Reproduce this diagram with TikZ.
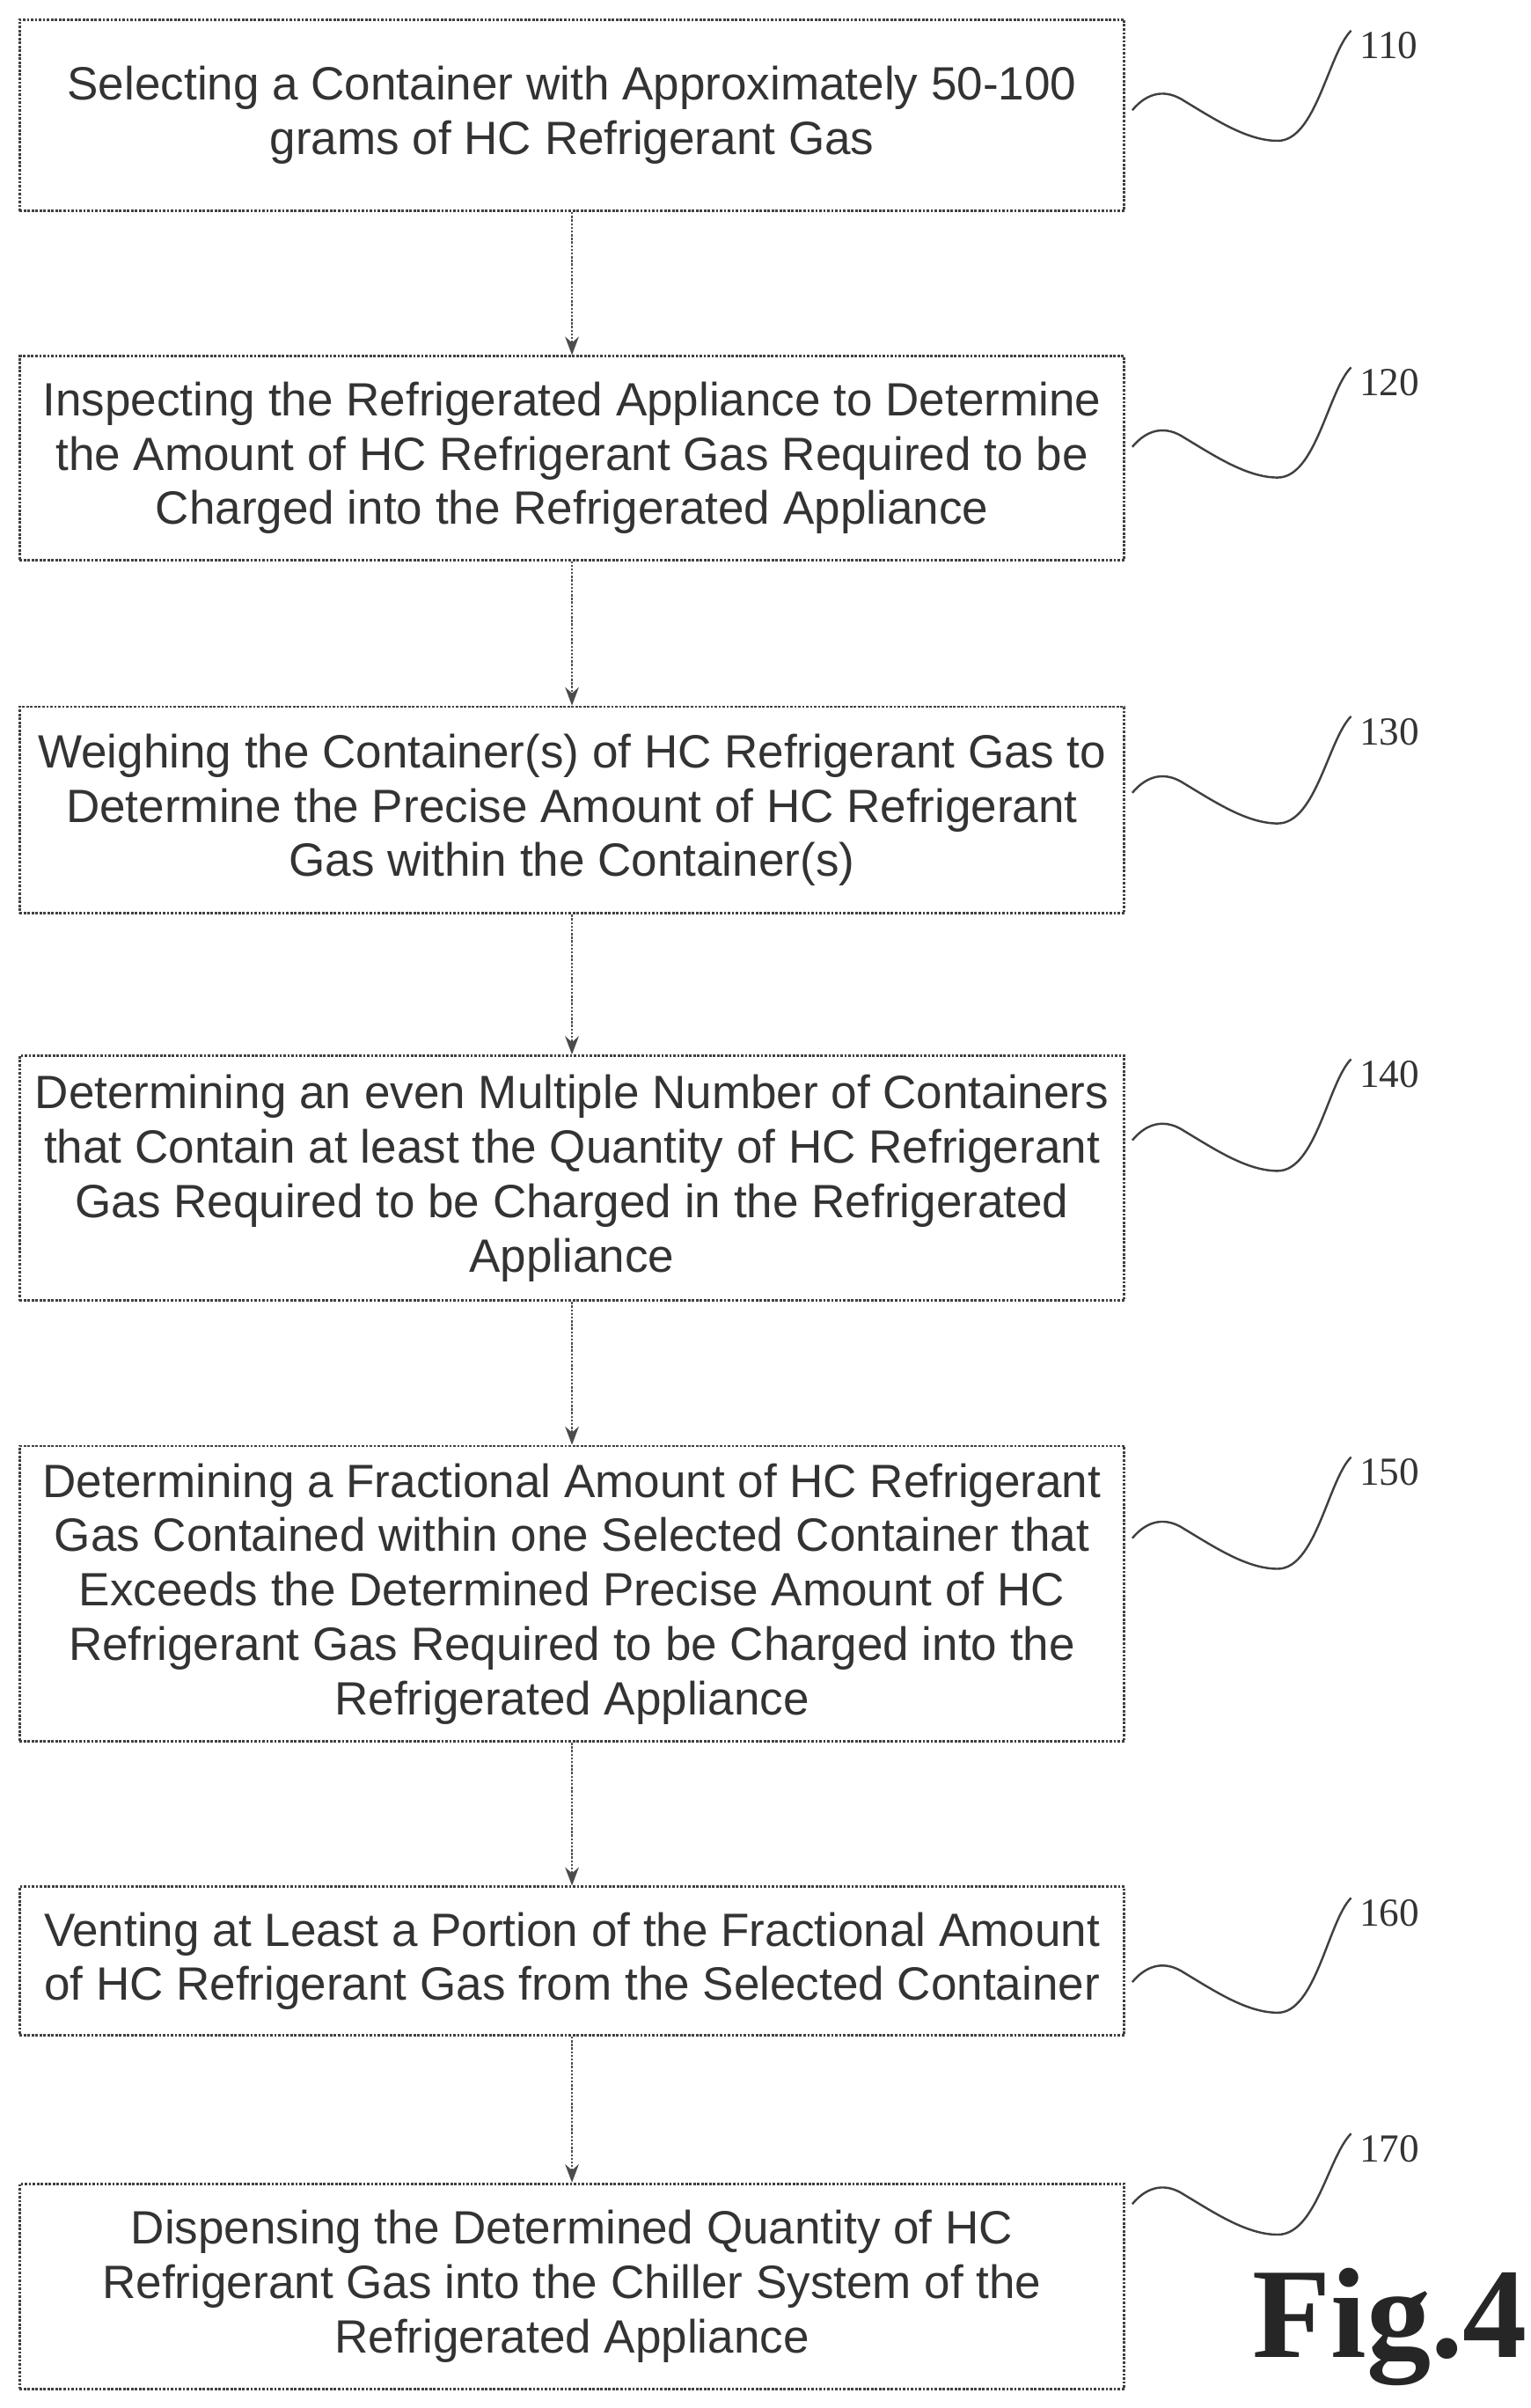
\documentclass[tikz,border=0pt]{standalone}
\usepackage{fontspec}
\setmainfont{Liberation Sans}
\newfontfamily\numfont{Liberation Serif}
\usetikzlibrary{arrows.meta}
\begin{document}
\begin{tikzpicture}[x=1pt,y=-1pt,
 box/.style={draw=black!75,line width=1.6pt,densely dotted,minimum width=722pt,align=center,inner sep=0pt,font=\fontsize{30.5}{35.5}\selectfont,text=black!80},
 arr/.style={draw=black!70,line width=1.4pt,densely dotted,-{Stealth[length=12pt,width=9pt]}},
 sq/.style={draw=black!75,line width=1.4pt},
 num/.style={font=\numfont\fontsize{26}{26}\selectfont,text=black!80,anchor=west}]
\useasboundingbox (0,0) rectangle (1000,1573.3);
\def\bx#1#2#3#4{\node[box,minimum height=#3-#2 pt,anchor=north west] (#1) at (12,#2) {#4};}
\bx{b1}{12}{137}{Selecting a Container with Approximately 50-100\\grams of HC Refrigerant Gas}
\bx{b2}{232}{365}{Inspecting the Refrigerated Appliance to Determine\\the Amount of HC Refrigerant Gas Required to be\\Charged into the Refrigerated Appliance}
\bx{b3}{461}{596}{Weighing the Container(s) of HC Refrigerant Gas to\\Determine the Precise Amount of HC Refrigerant\\Gas within the Container(s)}
\bx{b4}{689}{849}{Determining an even Multiple Number of Containers\\that Contain at least the Quantity of HC Refrigerant\\Gas Required to be Charged in the Refrigerated\\Appliance}
\bx{b5}{944}{1137}{Determining a Fractional Amount of HC Refrigerant\\Gas Contained within one Selected Container that\\Exceeds the Determined Precise Amount of HC\\Refrigerant Gas Required to be Charged into the\\Refrigerated Appliance}
\bx{b6}{1232}{1329}{Venting at Least a Portion of the Fractional Amount\\of HC Refrigerant Gas from the Selected Container}
\bx{b7}{1426}{1560}{Dispensing the Determined Quantity of HC\\Refrigerant Gas into the Chiller System of the\\Refrigerated Appliance}
\foreach \a/\b in {b1/b2,b2/b3,b3/b4,b4/b5,b5/b6,b6/b7}{\draw[arr] (\a.south) -- (\b.north);}
\foreach \n/\y/\s in {110/30/72,120/250/292,130/478/518,140/702/745,150/962/1005,160/1250/1295,170/1404/1440}{
 \node[num] (n\n) at (885,\y) {\n};
 \coordinate (s\n) at (740,\s);
 \draw[sq] (s\n) .. controls +(10,-12) and +(-12,-8) .. +(34,-6) .. controls +(20,12) and +(-20,0) .. +(95,20) .. controls +(25,0) and +(-15,15) .. ([xshift=-2pt,yshift=10pt]n\n.west);
}
\node[font=\numfont\bfseries\fontsize{84}{84}\selectfont,anchor=south west,text=black!85] (fig) at (815,1562) {Fig.4};
\end{tikzpicture}
\end{document}
